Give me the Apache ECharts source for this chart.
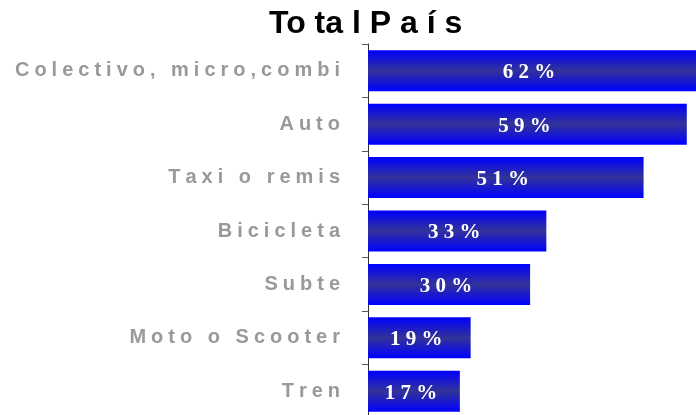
<!DOCTYPE html>
<html>
<head>
<meta charset="utf-8">
<script src="https://cdn.jsdelivr.net/npm/echarts@6/dist/echarts.min.js"></script>
<style>
  html, body { margin: 0; padding: 0; background: #fff; }
  #chart { width: 696px; height: 415px; }
</style>
</head>
<body>
<div id="chart"></div>
<script>
  // categories top to bottom
  const categories = ['Colectivo, micro,combi', 'Auto', 'Taxi o remis', 'Bicicleta', 'Subte', 'Moto o Scooter', 'Tren'];
  // percent values
  const values = [62, 59, 51, 33, 30, 19, 17];
  const titleText = 'To ta l P a í s';

  // spread letters out like the original
  function spaced(str, gap) {
    return str.split('').join(gap);
  }

  let myChart = echarts.init(document.getElementById('chart'));
  myChart.setOption({
    animation: false,
    title: {
      text: titleText,
      left: 264,
      top: 3,
      textStyle: {
        color: '#000',
        fontFamily: 'Liberation Sans, Arial, sans-serif',
        fontWeight: 'bold',
        fontSize: 32
      }
    },
    grid: {
      left: 368,
      right: 0,
      top: 44,
      bottom: -3,
      containLabel: false,
      outerBoundsMode: 'none'
    },
    xAxis: {
      type: 'value',
      min: 0,
      max: 60.7,
      show: false
    },
    yAxis: {
      type: 'category',
      inverse: true,
      data: categories,
      axisLine: { show: true, lineStyle: { color: '#333', width: 1 } },
      axisTick: { show: true, length: 6, lineStyle: { color: '#555' } },
      axisLabel: {
        margin: 28,
        color: '#999',
        fontFamily: 'Liberation Sans, Arial, sans-serif',
        fontWeight: 'bold',
        fontSize: 20,
        padding: [4, 0, 0, 0],
        formatter: function (v) { return spaced(v, '\u2005'); }
      },
      splitLine: { show: false }
    },
    series: [{
      type: 'bar',
      data: values,
      barWidth: 41,
      clip: true,
      itemStyle: {
        color: new echarts.graphic.LinearGradient(0, 0, 0, 1, [
          { offset: 0, color: '#0000ff' },
          { offset: 0.5, color: '#333399' },
          { offset: 1, color: '#0000ff' }
        ])
      },
      label: {
        show: true,
        position: 'inside',
        offset: [-3, 2],
        color: '#fff',
        fontFamily: 'Liberation Serif, Times New Roman, serif',
        fontWeight: 'bold',
        fontSize: 21,
        formatter: function (p) { return spaced(p.value + '%', '\u2005'); }
      }
    }]
  });
</script>
</body>
</html>
